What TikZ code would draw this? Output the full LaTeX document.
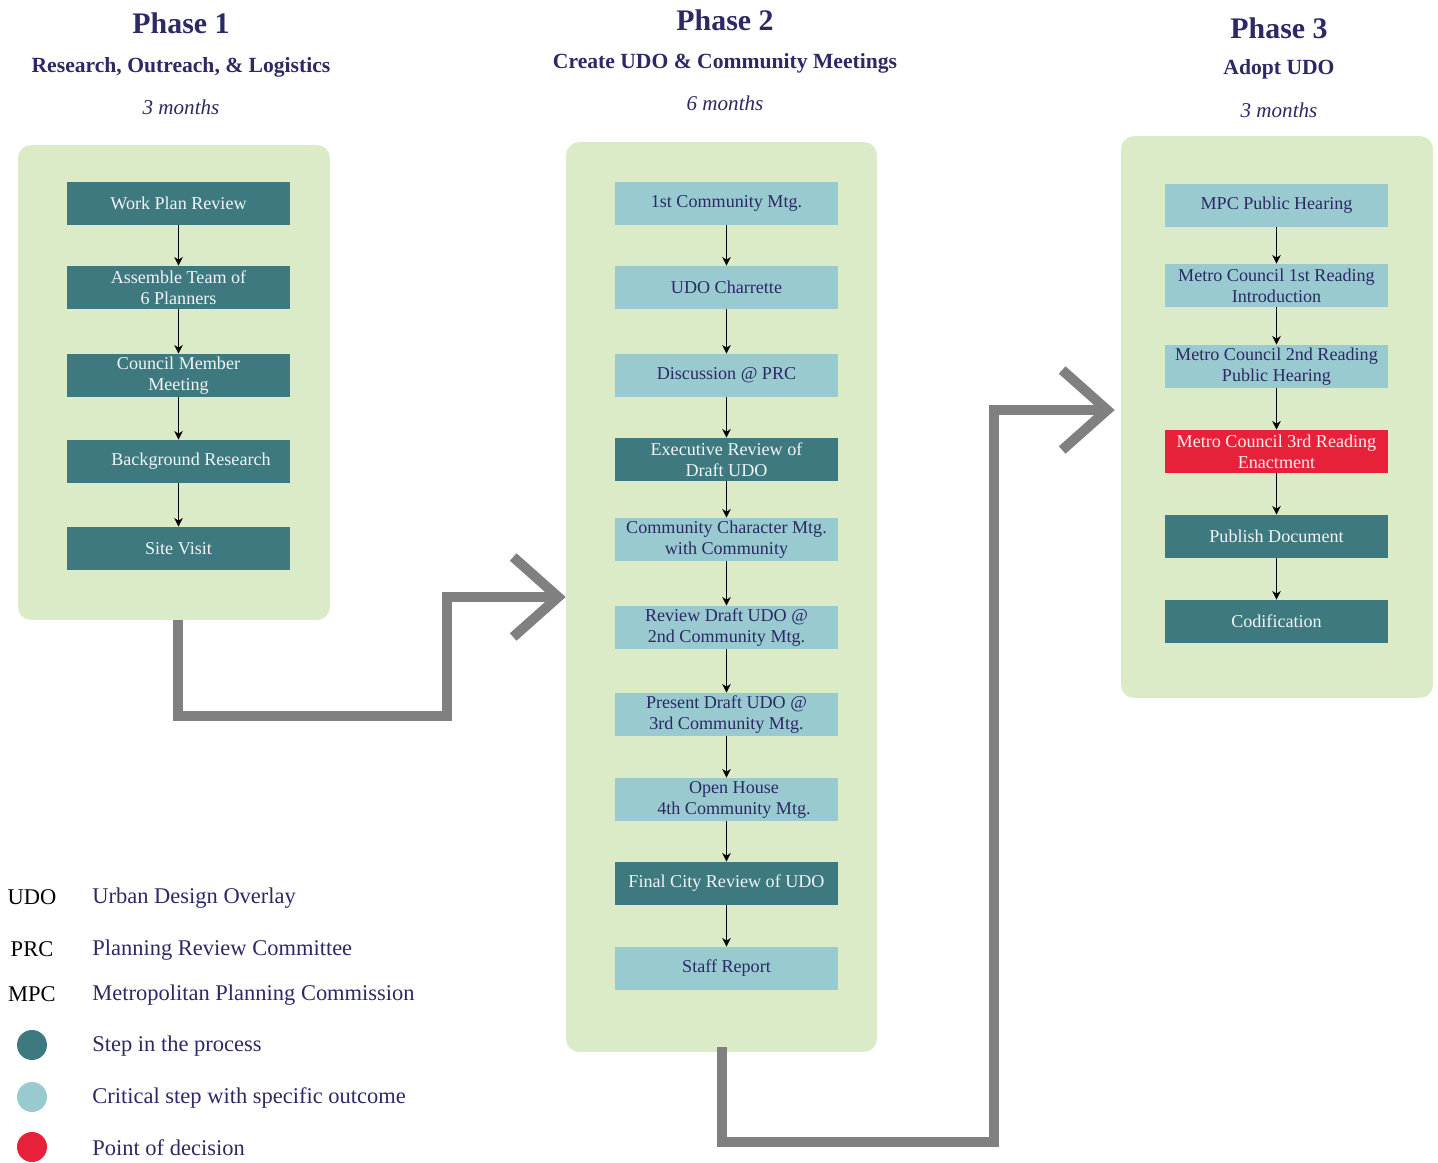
\documentclass[tikz,border=0pt]{standalone}
\usepackage{fontspec}
\setmainfont{Liberation Serif}
\usetikzlibrary{arrows.meta}
\definecolor{panelgreen}{RGB}{219,235,200}
\definecolor{stepteal}{RGB}{63,121,128}
\definecolor{critblue}{RGB}{153,202,208}
\definecolor{decred}{RGB}{232,33,58}
\definecolor{navy}{RGB}{44,41,100}
\definecolor{flowgray}{RGB}{128,128,128}

\begin{document}
\begin{tikzpicture}[x=0.02cm,y=-0.02cm,
  panel/.style={fill=panelgreen,rounded corners=0.26cm,inner sep=0pt},
  box/.style={minimum width=4.46cm,minimum height=0.86cm,inner sep=0pt,align=center,
    font=\fontsize{10.3}{12}\selectfont},
  stepbox/.style={box,fill=stepteal,text=white!92!stepteal},
  critbox/.style={box,fill=critblue,text=navy},
  decbox/.style={box,fill=decred,text=white!92!decred},
  phase/.style={text=navy,font=\fontsize{17}{20}\selectfont\bfseries},
  subtitle/.style={text=navy,font=\fontsize{12.3}{14}\selectfont\bfseries},
  months/.style={text=navy,font=\fontsize{12}{14}\selectfont\itshape},
  link/.style={-{Stealth[length=5pt,width=5pt]},line width=0.6pt},
  flow/.style={draw=flowgray,line width=0.2cm,miter limit=4,
    -{Straight Barb[length=0.9cm,width=1.6cm]}},
  abbr/.style={text=black,font=\fontsize{12.8}{14}\selectfont},
  legtext/.style={text=navy,anchor=west,inner sep=0pt,font=\fontsize{12.8}{14}\selectfont},
  dot/.style={circle,minimum size=0.6cm,inner sep=0pt}]
  \useasboundingbox (0,0) rectangle (1438,1163);

  % phase headings
  \node [phase]    (h1) at (181,23)  {Phase 1};
  \node [subtitle] (s1) at (181,67)  {Research, Outreach, \& Logistics};
  \node [months]   (m1) at (181,107) {3 months};
  \node [phase]    (h2) at (725,20)  {Phase 2};
  \node [subtitle] (s2) at (725,63)  {Create UDO \& Community Meetings};
  \node [months]   (m2) at (725,103) {6 months};
  \node [phase]    (h3) at (1279,28) {Phase 3};
  \node [subtitle] (s3) at (1279,69) {Adopt UDO};
  \node [months]   (m3) at (1279,110) {3 months};

  % panels
  \node [panel,minimum width=6.24cm,minimum height=9.5cm]   (p1) at (174,382.5) {};
  \node [panel,minimum width=6.22cm,minimum height=18.2cm]  (p2) at (721.5,597) {};
  \node [panel,minimum width=6.24cm,minimum height=11.24cm] (p3) at (1277,417) {};

  % phase 1
  \node [stepbox] (wpr)  at (178.5,203.5) {Work Plan Review};
  \node [stepbox] (team) at (178.5,287.5) {Assemble Team of\\6 Planners};
  \node [stepbox] (cmm)  at (178.5,375.5) {Council Member\\Meeting};
  \node [stepbox] (bgr)  at (178.5,461.5) {\hspace*{0.5cm}Background Research};
  \node [stepbox] (site) at (178.5,548.5) {Site Visit};

  \draw [link] (wpr)  -- (team);
  \draw [link] (team) -- (cmm);
  \draw [link] (cmm)  -- (bgr);
  \draw [link] (bgr)  -- (site);

  % phase 2
  \node [critbox] (c1)    at (726.5,203.5) {1st Community Mtg.};
  \node [critbox] (charr) at (726.5,287.5) {UDO Charrette};
  \node [critbox] (disc)  at (726.5,375.5) {Discussion @ PRC};
  \node [stepbox] (exec)  at (726.5,459.5) {Executive Review of\\Draft UDO};
  \node [critbox] (cchar) at (726.5,539.5) {Community Character Mtg.\\with Community};
  \node [critbox] (rev2)  at (726.5,627.5) {Review Draft UDO @\\2nd Community Mtg.};
  \node [critbox] (pres3) at (726.5,714.5) {Present Draft UDO @\\3rd Community Mtg.};
  \node [critbox] (open4) at (726.5,799.5) {\hspace*{0.3cm}Open House\\\hspace*{0.3cm}4th Community Mtg.};
  \node [stepbox] (final) at (726.5,883.5) {Final City Review of UDO};
  \node [critbox] (staff) at (726.5,968.5) {Staff Report};

  \draw [link] (c1)    -- (charr);
  \draw [link] (charr) -- (disc);
  \draw [link] (disc)  -- (exec);
  \draw [link] (exec)  -- (cchar);
  \draw [link] (cchar) -- (rev2);
  \draw [link] (rev2)  -- (pres3);
  \draw [link] (pres3) -- (open4);
  \draw [link] (open4) -- (final);
  \draw [link] (final) -- (staff);

  % phase 3
  \node [critbox] (mpc)   at (1276.5,205.5) {MPC Public Hearing};
  \node [critbox] (mc1)   at (1276.5,285.5) {Metro Council 1st Reading\\Introduction};
  \node [critbox] (mc2)   at (1276.5,366.5) {Metro Council 2nd Reading\\Public Hearing};
  \node [decbox]  (mc3)   at (1276.5,451.5) {Metro Council 3rd Reading\\Enactment};
  \node [stepbox] (pub)   at (1276.5,536.5) {Publish Document};
  \node [stepbox] (codif) at (1276.5,621.5) {Codification};

  \draw [link] (mpc) -- (mc1);
  \draw [link] (mc1) -- (mc2);
  \draw [link] (mc2) -- (mc3);
  \draw [link] (mc3) -- (pub);
  \draw [link] (pub) -- (codif);

  % phase to phase
  \draw [flow] ([xshift=0.08cm]p1.south) -- ++(0,96) -- ++(269,0) |- (p2.west);
  \draw [flow,shorten >=0.12cm] ([yshift=0.1cm]p2.south) -- ++(0,95) -- ++(272,0) |- ([yshift=0.14cm]p3.west);

  % legend
  \node [abbr]    (aUDO) at (32,897) {UDO};
  \node [legtext] (dUDO) at (92,898) {Urban Design Overlay};
  \node [abbr]    (aPRC) at (32,949) {PRC};
  \node [legtext] (dPRC) at (92,950) {Planning Review Committee};
  \node [abbr]    (aMPC) at (32,994) {MPC};
  \node [legtext] (dMPC) at (92,995) {Metropolitan Planning Commission};
  \node [dot,fill=stepteal] (kstep) at (32,1045) {};
  \node [legtext] (dstep) at (92,1046) {Step in the process};
  \node [dot,fill=critblue] (kcrit) at (32,1097) {};
  \node [legtext] (dcrit) at (92,1098) {Critical step with specific outcome};
  \node [dot,fill=decred]   (kdec)  at (32,1147) {};
  \node [legtext] (ddec)  at (92,1148) {Point of decision};
\end{tikzpicture}
\end{document}
